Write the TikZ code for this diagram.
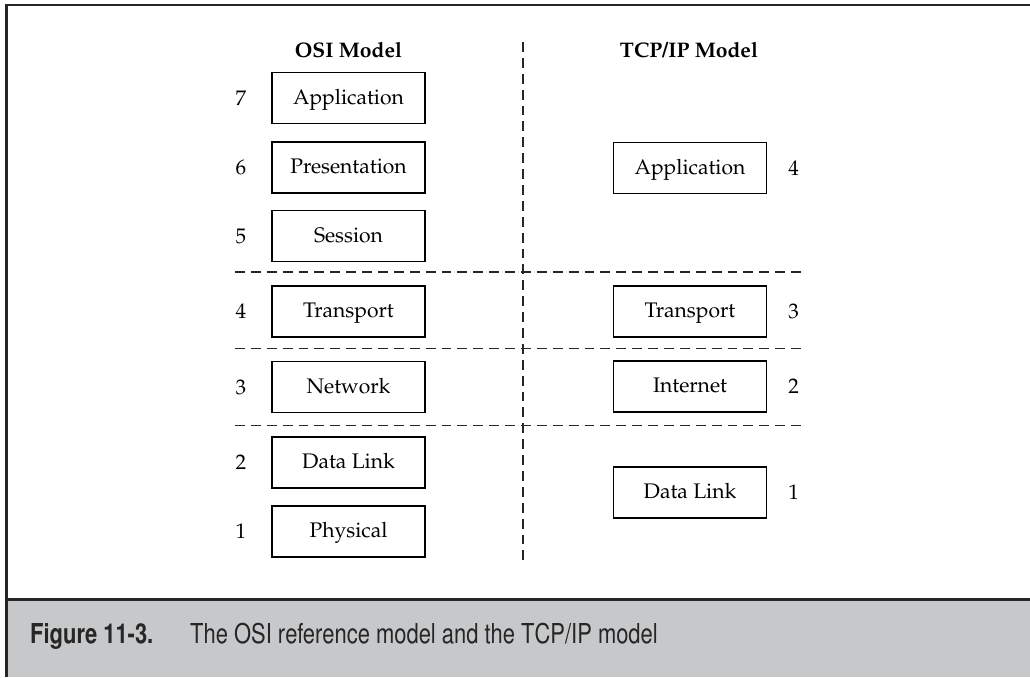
\documentclass[tikz,border=0pt]{standalone}
\usepackage[T1]{fontenc}
\renewcommand{\rmdefault}{ppl}
\renewcommand{\sfdefault}{phv}
\usetikzlibrary{positioning}
\definecolor{capgray}{RGB}{199, 200, 202}
\definecolor{ruledark}{RGB}{38, 38, 38}

\begin{document}
\begin{tikzpicture}[x=0.025cm, y=-0.025cm,
    layer/.style={draw, line width=0.9pt, minimum width=3.825cm, minimum height=1.275cm,
      inner sep=0pt, text height=10.4pt, text depth=1.5pt, font=\fontsize{15}{18}\selectfont},
    num/.style={inner sep=0pt, font=\fontsize{15}{18}\selectfont},
    head/.style={font=\fontsize{15}{18}\selectfont\bfseries},
    sep/.style={dash pattern=on 7pt off 4.3pt, line width=1.05pt, ruledark},
    captxt/.style={anchor=base west, inner sep=0pt, xscale=0.8, text=ruledark}]
    \useasboundingbox (0,0) rectangle (1030,677);

    % Frame and caption bar
    \fill[capgray] (6,601) rectangle (1030,677);
    \draw[line width=2.1pt, ruledark] (6.5,677) -- (6.5,5) -- (1030,5);
    \draw[line width=2.8pt, ruledark] (5,599.5) -- (1030,599.5);
    \node[captxt, font=\fontsize{19.5}{22}\sffamily\bfseries] (capnum) at (30,643) {Figure 11-3.};
    \node[captxt, font=\fontsize{19.5}{22}\sffamily] (captext) at (190,643) {The OSI reference model and the TCP/IP model};

    % Column heads
    \node[head] (osihead) at (348.5,50) {OSI Model};
    \node[head] (tcphead) at (689,50) {TCP/IP Model};

    % Separators
    \draw[sep] (523,42) -- (523,563);
    \draw[sep] (235,272) -- (807,272);
    \draw[sep] (235,348.5) -- (807,348.5);
    \draw[sep] (235,425.5) -- (807,425.5);

    % OSI layers
    \node[layer] (osi7) at (348.5,98) {Application};
    \node[layer] (osi6) at (348.5,167.5) {Presentation};
    \node[layer] (osi5) at (348.5,236) {Session};
    \node[layer] (osi4) at (348.5,311.5) {Transport};
    \node[layer] (osi3) at (348.5,387) {Network};
    \node[layer] (osi2) at (348.5,462.5) {Data Link};
    \node[layer] (osi1) at (348.5,531.5) {Physical};
    \node[num, left=0.62cm of osi7] (osinum7) {7};
    \node[num, left=0.62cm of osi6] (osinum6) {6};
    \node[num, left=0.62cm of osi5] (osinum5) {5};
    \node[num, left=0.62cm of osi4] (osinum4) {4};
    \node[num, left=0.62cm of osi3] (osinum3) {3};
    \node[num, left=0.62cm of osi2] (osinum2) {2};
    \node[num, left=0.62cm of osi1] (osinum1) {1};

    % TCP/IP layers
    \node[layer] (tcp4) at (690,168) {Application};
    \node[layer] (tcp3) at (690,311.5) {Transport};
    \node[layer] (tcp2) at (690,386.5) {Internet};
    \node[layer] (tcp1) at (690,492.5) {Data Link};
    \node[num, right=0.52cm of tcp4] (tcpnum4) {4};
    \node[num, right=0.52cm of tcp3] (tcpnum3) {3};
    \node[num, right=0.52cm of tcp2] (tcpnum2) {2};
    \node[num, right=0.52cm of tcp1] (tcpnum1) {1};
\end{tikzpicture}
\end{document}
